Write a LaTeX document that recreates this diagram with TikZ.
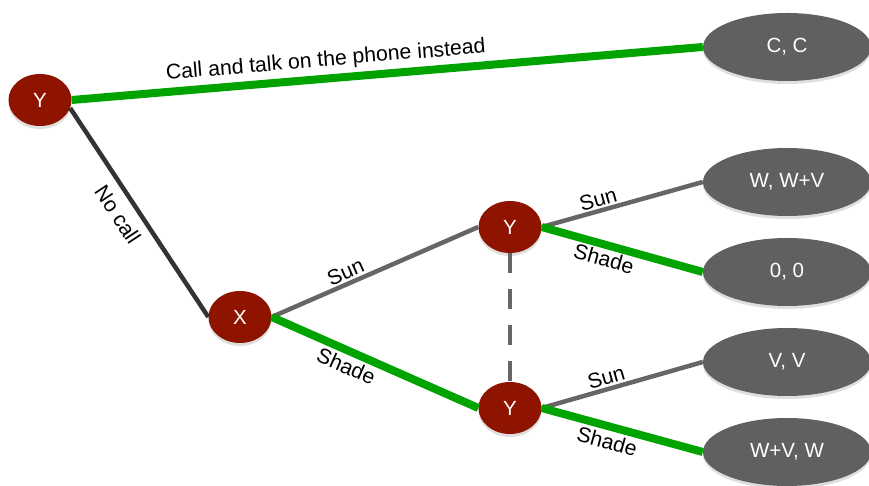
\documentclass[tikz,border=0pt]{standalone}
\usepackage{fontspec}
\setmainfont{Liberation Sans}
\usetikzlibrary{shapes.geometric,shadows}
\definecolor{nodered}{HTML}{8F1400}
\definecolor{paygray}{HTML}{606060}
\definecolor{choicegreen}{HTML}{00A300}
\definecolor{linegray}{HTML}{666666}
\definecolor{darkline}{HTML}{333333}
\begin{document}
\begin{tikzpicture}[x=1pt,y=1pt,
  decision/.style={ellipse, fill=nodered, minimum width=63pt, minimum height=52pt, inner sep=0pt,
    text=white, font=\fontsize{20.5}{24}\selectfont,
    drop shadow={shadow xshift=0pt, shadow yshift=-3pt, opacity=0.25}},
  payoff/.style={ellipse, fill=paygray, minimum width=168pt, minimum height=68pt, inner sep=0pt,
    text=white, font=\fontsize{20.5}{24}\selectfont,
    drop shadow={shadow xshift=0pt, shadow yshift=-3pt, opacity=0.25}},
  lbl/.style={font=\fontsize{21.2}{25}\selectfont, sloped, inner sep=2pt, text=black},
  sunedge/.style={line width=4.5pt, draw=linegray},
  shadeedge/.style={line width=8pt, draw=choicegreen},
]
\useasboundingbox (0,0) rectangle (869,486);
% nodes
\node[decision] (Yr) at (40,386) {Y};
\node[decision] (X) at (240,169) {X};
\node[decision] (Yu) at (510,259) {Y};
\node[decision] (Yl) at (510,78) {Y};
\node[payoff] (CC) at (787,439) {C, C};
\node[payoff] (WWV) at (787,304) {W, W+V};
\node[payoff] (OO) at (787,214) {0, 0};
\node[payoff] (VV) at (787,124) {V, V};
\node[payoff] (WVW) at (787,34) {W+V, W};
% edges
\draw[shadeedge] (Yr.east) -- node[lbl, pos=0.405, above, inner sep=4pt] {Call and talk on the phone instead} (CC.west);
\draw[line width=4.5pt, draw=darkline] (Yr.-15) -- node[lbl, pos=0.46, below, inner sep=9pt] {No call} (X.west);
\draw[sunedge] (X.east) -- node[lbl, pos=0.38, above] {Sun} (Yu.west);
\draw[shadeedge] (X.east) -- node[lbl, pos=0.39, below, inner sep=3pt] {Shade} (Yl.west);
\draw[sunedge] (Yu.east) -- node[lbl, pos=0.37, above] {Sun} (WWV.west);
\draw[shadeedge] (Yu.east) -- node[lbl, pos=0.41, below] {Shade} (OO.west);
\draw[sunedge] (Yl.east) -- node[lbl, pos=0.42, above] {Sun} (VV.west);
\draw[shadeedge] (Yl.east) -- node[lbl, pos=0.43, below, inner sep=3pt] {Shade} (WVW.west);
\draw[sunedge, dash pattern=on 20pt off 16pt] (Yu.south) -- (Yl.north);
\end{tikzpicture}
\end{document}
